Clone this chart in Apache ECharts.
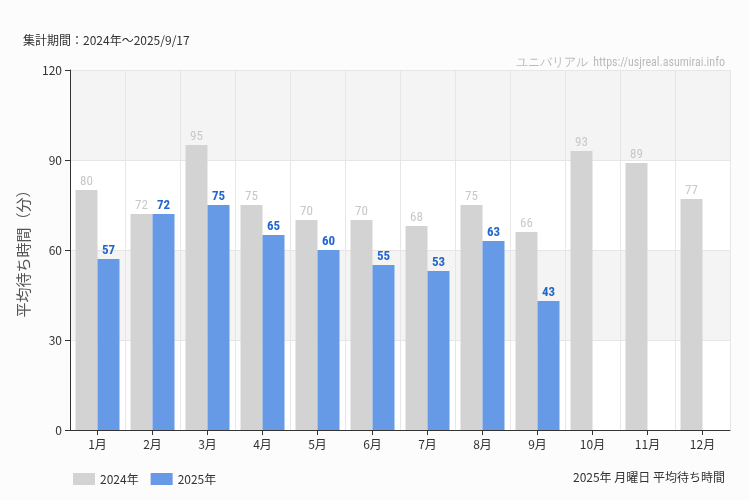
<!DOCTYPE html>
<html lang="ja" style="height: 100%">
<head>
  <meta charset="utf-8">
</head>
<body style="height: 100%; margin: 0; background: #fcfcfc">
  <div id="container" style="width: 750px; height: 500px"></div>
  <script src="https://cdn.jsdelivr.net/npm/echarts@6/dist/echarts.min.js"></script>
  <script type="text/javascript">
    var months = ['1月', '2月', '3月', '4月', '5月', '6月', '7月', '8月', '9月', '10月', '11月', '12月'];
    var data2024 = [80, 72, 95, 75, 70, 70, 68, 75, 66, 93, 89, 77];
    var data2025 = [57, 72, 75, 65, 60, 55, 53, 63, 43, null, null, null];

    var myChart = echarts.init(document.getElementById('container'), null, { renderer: 'canvas' });
    var font = '"Noto Sans CJK JP", "Noto Sans", sans-serif';
    var narrow = '"Roboto Condensed", "DejaVu Sans Condensed", sans-serif';

    var option = {
      animation: false,
      backgroundColor: '#fcfcfc',
      textStyle: { fontFamily: font },
      title: [
        { text: '集計期間：2024年～2025/9/17', left: 18, top: 29, textStyle: { fontSize: 12, fontWeight: 'normal', color: '#333' } },
        { text: 'ユニバリアル  https://usjreal.asumirai.info', right: 20, top: 52, textStyle: { fontSize: 12, fontWeight: 'normal', color: '#bbb', fontFamily: narrow } },
        { text: '2025年 月曜日 平均待ち時間', right: 20, top: 466, textStyle: { fontSize: 12, fontWeight: 'normal', color: '#333' } }
      ],
      legend: {
        left: 68, top: 468, itemWidth: 22, itemHeight: 12, itemGap: 12,
        icon: 'rect',
        textStyle: { fontSize: 12, color: '#333' },
        data: ['2024年', '2025年']
      },
      grid: { left: 70, right: 20, top: 70, bottom: 70 },
      xAxis: {
        type: 'category',
        data: months,
        axisLine: { lineStyle: { color: '#333' } },
        axisTick: { show: true, alignWithLabel: true, lineStyle: { color: '#333' } },
        axisLabel: { color: '#333', fontSize: 12 },
        splitLine: { show: true, interval: 0, lineStyle: { color: '#e6e6e6' } }
      },
      yAxis: {
        type: 'value', min: 0, max: 120, interval: 30,
        name: '平均待ち時間（分）',
        nameLocation: 'middle', nameGap: 35,
        nameTextStyle: { fontSize: 15, color: '#555' },
        axisLine: { show: true, lineStyle: { color: '#333' } },
        axisTick: { show: true, lineStyle: { color: '#333' } },
        axisLabel: { color: '#333', fontSize: 12 },
        splitLine: { lineStyle: { color: '#e6e6e6' } },
        splitArea: { show: true, areaStyle: { color: ['#ffffff', '#f4f4f4'] } }
      },
      series: [
        {
          name: '2024年', type: 'bar', data: data2024,
          barWidth: 22, barGap: '0%',
          itemStyle: { color: '#d3d3d3' },
          label: { show: true, position: 'top', distance: 2, color: '#c8c8c8', fontSize: 13, fontFamily: narrow }
        },
        {
          name: '2025年', type: 'bar', data: data2025,
          barWidth: 22,
          itemStyle: { color: '#6699e6' },
          label: { show: true, position: 'top', distance: 2, color: '#2266cc', fontSize: 13, fontWeight: 'bold', fontFamily: narrow }
        }
      ]
    };
    myChart.setOption(option);
  </script>
</body>
</html>
